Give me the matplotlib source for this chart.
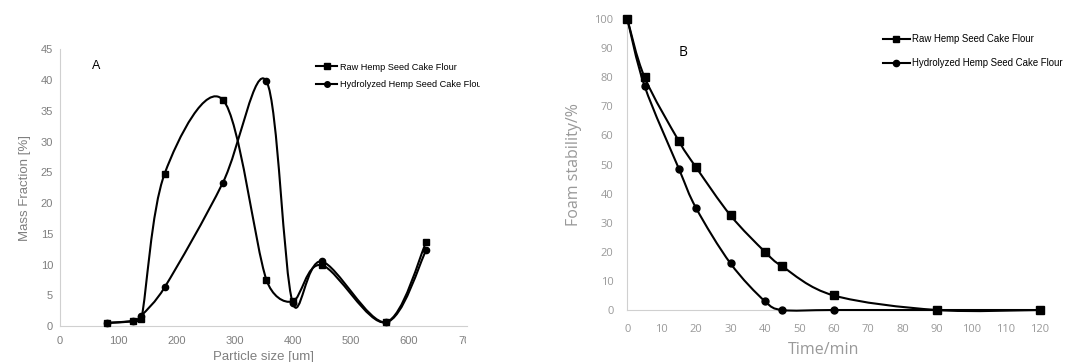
import numpy as np
import matplotlib.pyplot as plt
from matplotlib.path import Path
from matplotlib.patches import PathPatch
from matplotlib.lines import Line2D
from matplotlib.transforms import Bbox

plt.rcParams['font.family'] = ['Liberation Sans', 'DejaVu Sans']

# panel A: particle size distribution
size_um = [80, 125, 140, 180, 280, 355, 400, 450, 560, 630]
raw_mass = [0.5, 0.8, 1.2, 24.8, 36.8, 7.5, 4.0, 9.9, 0.6, 13.7]
hyd_mass = [0.5, 0.8, 1.7, 6.3, 23.3, 39.8, 3.8, 10.5, 0.6, 12.4]

# panel B: foam stability
time_min = [0, 5, 15, 20, 30, 40, 45, 60, 90, 120]
raw_foam = [100, 80, 58, 49, 32.5, 20, 15, 5, 0, 0]
hyd_foam = [100, 77, 48.5, 35, 16, 3, 0, 0, 0, 0]

labels = ["Raw Hemp Seed Cake Flour", "Hydrolyzed Hemp Seed Cake Flour"]
gray = '#7f7f7f'
gray_b = '#999999'
calib = ['Open Sans', 'DejaVu Sans']


def clamp(v, maxlen):
    n = np.hypot(*v)
    return v * (maxlen / n) if n > maxlen else v


def smooth_path(ax, x, y):
    # Excel style smoothed line: cubic bezier through the points,
    # built in display space so the handles can be kept short
    pts = ax.transData.transform(np.column_stack([x, y]))
    n = len(pts)
    verts = [pts[0]]
    codes = [Path.MOVETO]
    for i in range(n - 1):
        p0 = pts[max(i - 1, 0)]
        p1 = pts[i]
        p2 = pts[i + 1]
        p3 = pts[min(i + 2, n - 1)]
        seg = np.hypot(*(p2 - p1))
        c1 = p1 + clamp((p2 - p0) / 6, seg / 2)
        c2 = p2 - clamp((p3 - p1) / 6, seg / 2)
        verts += [c1, c2, p2]
        codes += [Path.CURVE4] * 3
    verts = ax.transData.inverted().transform(np.array(verts))
    return Path(verts, codes)


def draw_series(ax, x, y, marker, ms):
    ax.add_patch(PathPatch(smooth_path(ax, x, y), facecolor='none',
                           edgecolor='black', lw=1.5, zorder=3, clip_on=False))
    ax.plot(x, y, linestyle='none', marker=marker, ms=ms, color='black',
            zorder=4, clip_on=False)


def style_axes(ax):
    for s in ['top', 'right']:
        ax.spines[s].set_visible(False)
    for s in ['left', 'bottom']:
        ax.spines[s].set_color('#d0d0d0')
        ax.spines[s].set_linewidth(0.8)
    ax.tick_params(length=0, colors=gray, labelsize=8, pad=5)


fig = plt.figure(figsize=(10.77, 3.62), dpi=100)

# ---- A ----
axA = fig.add_axes([0.0557, 0.0994, 0.378, 0.7644])
axA.set_xlim(0, 700)
axA.set_ylim(0, 45)
draw_series(axA, size_um, raw_mass, 's', 5)
draw_series(axA, size_um, hyd_mass, 'o', 4.5)
axA.set_xticks(range(0, 701, 100))
axA.set_yticks(range(0, 46, 5))
style_axes(axA)
axA.tick_params(axis='x', pad=7)
axA.set_xlabel("Particle size [um]", color=gray, fontsize=9.5, labelpad=4)
axA.set_ylabel("Mass Fraction [%]", color=gray, fontsize=9.5, labelpad=7)
axA.text(0.09, 0.94, "A", transform=axA.transAxes, fontsize=9, ha='center', va='center')
hA = [Line2D([], [], color='black', lw=1.5, marker='s', ms=4),
      Line2D([], [], color='black', lw=1.5, marker='o', ms=4)]
legA = axA.legend(hA, labels, loc='upper left', bbox_to_anchor=(0.62, 0.965),
                  frameon=False, fontsize=6.6, handlelength=2.3, handletextpad=0.3,
                  labelspacing=0.95, borderaxespad=0)
for lab in axA.get_xticklabels():
    lab.set_clip_box(Bbox([[0, 0], [466, 362]]))
    lab.set_clip_on(True)
for t in legA.get_texts():
    t.set_clip_box(Bbox([[0, 0], [480, 362]]))
    t.set_clip_on(True)

# ---- B ----
axB = fig.add_axes([0.5825, 0.1436, 0.3832, 0.8039])
axB.set_xlim(0, 120)
axB.set_ylim(0, 100)
draw_series(axB, time_min, raw_foam, 's', 6)
draw_series(axB, time_min, hyd_foam, 'o', 5)
axB.set_xticks(range(0, 121, 10))
axB.set_yticks(range(0, 101, 10))
style_axes(axB)
axB.tick_params(colors=gray_b, labelsize=8)
axB.tick_params(axis='x', pad=10)
axB.tick_params(axis='y', pad=10)
for lab in axB.get_xticklabels() + axB.get_yticklabels():
    lab.set_family(calib)
axB.set_xlabel("Time/min", color=gray_b, fontsize=11.5, labelpad=5, family=calib)
axB.xaxis.set_label_coords(0.475, -0.11)
axB.set_ylabel("Foam stability/%", color=gray_b, fontsize=11.5, labelpad=9, family=calib)
axB.text(0.135, 0.885, "B", transform=axB.transAxes, fontsize=10, ha='center', va='center',
         family=calib)
hB = [Line2D([], [], color='black', lw=1.5, marker='s', ms=5),
      Line2D([], [], color='black', lw=1.5, marker='o', ms=4.5)]
axB.legend(hB, labels, loc='upper left', bbox_to_anchor=(0.61, 0.96),
           frameon=False, fontsize=6.9, handlelength=2.8, handletextpad=0.2,
           labelspacing=1.4, borderaxespad=0)

fig.savefig("out.png", dpi=100)
